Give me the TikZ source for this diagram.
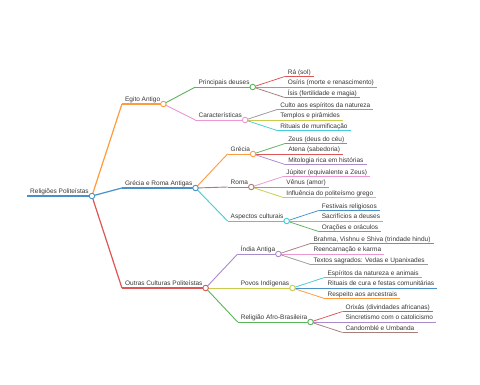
\documentclass[tikz,border=0pt]{standalone}
\usepackage{fontspec}
\setmainfont{Liberation Sans}
\usetikzlibrary{calc}
\definecolor{mmblue}{HTML}{4A90C8}
\definecolor{mmorange}{HTML}{FF9A3E}
\definecolor{mmgreen}{HTML}{5AB55A}
\definecolor{mmred}{HTML}{DE5556}
\definecolor{mmpurple}{HTML}{A98BCC}
\definecolor{mmbrown}{HTML}{A67F78}
\definecolor{mmpink}{HTML}{EA97D2}
\definecolor{mmgray}{HTML}{999999}
\definecolor{mmolive}{HTML}{CBCB4E}
\definecolor{mmcyan}{HTML}{45CBD9}
\tikzset{
  mmtext/.style={font=\fontsize{6.5}{7}\selectfont,text=black!78,inner xsep=3pt,inner ysep=0pt,anchor=base west},
  mmroot/.style={line width=1.6pt},
  mmone/.style={line width=1.2pt},
  mmtwo/.style={line width=0.9pt},
  mmleaf/.style={line width=0.75pt},
  mmdot/.style={circle,draw,fill=white,inner sep=0pt,minimum size=5.5pt,line width=0.9pt}
}
% text node with its underline, ends (name-l) and (name-r)
\newcommand\mmnode[4]{%
  \coordinate (#1-l) at #2;
  \node[mmtext] (#1) at ($(#1-l)+(0,-2.5)$) {#4};
  \coordinate (#1-r) at (#1.east |- #1-l);
  \draw[#3] (#1-l) -- (#1-r);
}
% curved link from parent dot to child line
\newcommand\mmlink[3]{%
  \draw[#1] (#2-r) .. controls ($(#2-r)!.5!(#3-l)$ |- #2-r) and ($(#2-r)!.5!(#3-l)$ |- #3-l) .. (#3-l);
}

\begin{document}
\begin{tikzpicture}[x=1pt,y=-1pt]
\useasboundingbox[fill=white] (0,0) rectangle (480,384);

\mmnode{root}{(27,196)}{mmblue,mmroot}{Religiões Politeístas}

% first level
\foreach \n/\dy/\c/\t in {egito/-92/mmorange/{Egito Antigo},
    grecoroma/-8/mmblue/{Grécia e Roma Antigas},
    outras/92/mmred/{Outras Culturas Politeístas}} {
  \mmnode{\n}{($(root-r)+(30,\dy)$)}{\c,mmone}{\t}
  \mmlink{\c,mmone}{root}{\n}
}

% second level
\foreach \p/\n/\dy/\c/\t in {egito/principais/-17/mmgreen/{Principais deuses},
    egito/caracteristicas/16/mmpink/{Características},
    grecoroma/grecia/-34/mmorange/{Grécia},
    grecoroma/roma/-1/mmbrown/{Roma},
    grecoroma/aspectos/33/mmcyan/{Aspectos culturais},
    outras/india/-34/mmpurple/{Índia Antiga},
    outras/povos/0/mmolive/{Povos Indígenas},
    outras/afro/34/mmgreen/{Religião Afro-Brasileira}} {
  \mmnode{\n}{($(\p-r)+(32,\dy)$)}{\c,mmtwo}{\t}
  \mmlink{\c,mmtwo}{\p}{\n}
}

% leaves
\foreach \p/\n/\dy/\c/\t in {principais/ra/-10.5/mmred/{Rá (sol)},
    principais/osiris/0/mmpurple/{Osíris (morte e renascimento)},
    principais/isis/10.5/mmbrown/{Ísis (fertilidade e magia)},
    caracteristicas/culto/-10.5/mmgray/{Culto aos espíritos da natureza},
    caracteristicas/templos/0/mmolive/{Templos e pirâmides},
    caracteristicas/mumia/10.5/mmcyan/{Rituais de mumificação},
    grecia/zeus/-10.5/mmgreen/{Zeus (deus do céu)},
    grecia/atena/0/mmred/{Atena (sabedoria)},
    grecia/mitologia/10.5/mmpurple/{Mitologia rica em histórias},
    roma/jupiter/-10.5/mmpink/{Júpiter (equivalente a Zeus)},
    roma/venus/0/mmgray/{Vênus (amor)},
    roma/influencia/10.5/mmolive/{Influência do politeísmo grego},
    aspectos/festivais/-10.5/mmblue/{Festivais religiosos},
    aspectos/sacrificios/0/mmorange/{Sacrifícios a deuses},
    aspectos/oracoes/10.5/mmgreen/{Orações e oráculos},
    india/trindade/-10.5/mmbrown/{Brahma, Vishnu e Shiva (trindade hindu)},
    india/karma/0/mmpink/{Reencarnação e karma},
    india/vedas/10.5/mmgray/{Textos sagrados: Vedas e Upanixades},
    povos/espiritos/-10.5/mmcyan/{Espíritos da natureza e animais},
    povos/cura/0/mmblue/{Rituais de cura e festas comunitárias},
    povos/ancestrais/10.5/mmorange/{Respeito aos ancestrais},
    afro/orixas/-10.5/mmred/{Orixás (divindades africanas)},
    afro/sincretismo/0/mmpurple/{Sincretismo com o catolicismo},
    afro/candomble/10.5/mmbrown/{Candomblé e Umbanda}} {
  \mmnode{\n}{($(\p-r)+(32,\dy)$)}{\c,mmleaf}{\t}
  \mmlink{\c,mmleaf}{\p}{\n}
}

% dots on nodes with children
\foreach \n/\c in {root/mmblue,egito/mmorange,grecoroma/mmblue,outras/mmred,
    principais/mmgreen,caracteristicas/mmpink,grecia/mmorange,roma/mmbrown,
    aspectos/mmcyan,india/mmpurple,povos/mmolive,afro/mmgreen}
  \node[mmdot,draw=\c] at (\n-r) {};
\end{tikzpicture}
\end{document}
